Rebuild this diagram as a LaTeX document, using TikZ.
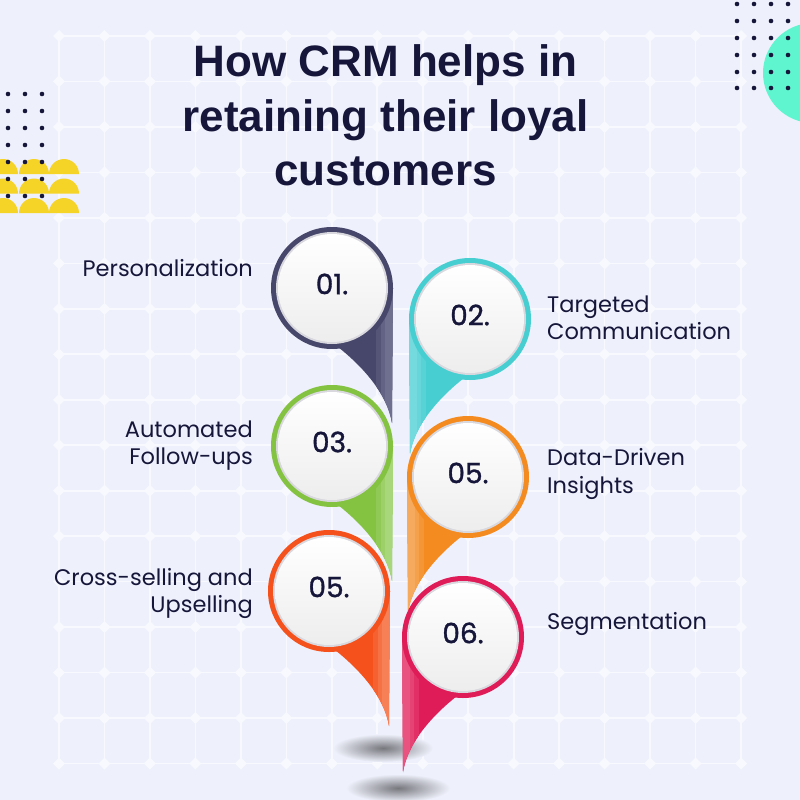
\documentclass[tikz,border=0pt]{standalone}
\usepackage{fontspec}
\setmainfont{Poppins}
\newfontfamily\titlefont{Liberation Sans}
\newfontfamily\numfont{Poppins}[FakeBold=1.2]
\usetikzlibrary{calc}
\definecolor{bg}{HTML}{EEF0FB}
\definecolor{gridc}{HTML}{F8F9FE}
\definecolor{navy}{HTML}{16163A}
\definecolor{yel}{HTML}{F6D327}
\definecolor{mint}{HTML}{5EF5CF}
\definecolor{ringgray}{HTML}{D8D8DE}
\definecolor{pAm}{HTML}{47476B}\definecolor{pAl}{HTML}{6F6F90}
\definecolor{pBm}{HTML}{47CED1}\definecolor{pBl}{HTML}{74DADD}
\definecolor{pCm}{HTML}{84C242}\definecolor{pCl}{HTML}{A8D67A}
\definecolor{pDm}{HTML}{F38B20}\definecolor{pDl}{HTML}{F6AA5E}
\definecolor{pEm}{HTML}{F4511C}\definecolor{pEl}{HTML}{F78056}
\definecolor{pFm}{HTML}{DF1C58}\definecolor{pFl}{HTML}{E8537F}
\tikzset{
  gridline/.style={draw=gridc, line width=1.6pt},
  dotc/.style={fill=navy},
  numstyle/.style={font=\numfont\fontsize{28}{30}\selectfont, text=navy, inner sep=0pt},
  lbl/.style={font=\fontsize{22.5}{26}\selectfont, text=navy, inner sep=0pt},
  lblL/.style={lbl, anchor=base east},
  lblR/.style={lbl, anchor=base west},
  ttl/.style={font=\titlefont\bfseries\fontsize{44}{50}\selectfont, text=navy, inner sep=0pt, anchor=base},
}
\newcommand\drawpin[7]{%
  \begin{scope}[shift={(#1,#2)}]
    \begin{scope}[xscale=#7]
      \fill[#3] (6,59) .. controls (30,78) and (55,105) .. (60,135) -- (61,0) -- (0,0) -- cycle;
      \begin{scope}
        \clip (6,59) .. controls (30,78) and (55,105) .. (60,135) -- (61,0) -- (0,0) -- cycle;
        \fill[#3!65!#4] (44,0) rectangle (49,140);
        \fill[#3!30!#4] (49,0) rectangle (53,140);
        \fill[#4] (53,0) rectangle (64,140);
      \end{scope}
    \end{scope}
    \fill[#3] (0,0) circle (61);
    \fill[ringgray] (0,0) circle (56);
    \shade[top color=white, bottom color=black!7] (0,0) circle (54);
    \node[numstyle] (#6) at (0,-4) {#5};
  \end{scope}}
\begin{document}
\begin{tikzpicture}[x=1pt,y=-1pt]
\useasboundingbox (0,0) rectangle (800,800);
\fill[bg] (0,0) rectangle (800,800);
% grid
\foreach \i in {0,...,15} \draw[gridline] ({59+45.47*\i},36) -- ({59+45.47*\i},763.5);
\foreach \j in {0,...,16} \draw[gridline] (59,{36+45.47*\j}) -- (741,{36+45.47*\j});
\foreach \i in {0,...,15} \foreach \j in {0,...,16}
  \fill[gridc] ({59+45.47*\i-6},{36+45.47*\j}) -- ({59+45.47*\i},{36+45.47*\j-6}) -- ({59+45.47*\i+6},{36+45.47*\j}) -- ({59+45.47*\i},{36+45.47*\j+6}) -- cycle;
% decorations top-left
\foreach \by in {174,193.5,213} \foreach \cx in {3,34,64}
  \fill[yel] ({\cx-15},\by) arc[start angle=180, end angle=360, radius=15] -- cycle;
\foreach \x in {8,25,42} \foreach \y in {94,111,128,145,162,179,196}
  \fill[dotc] (\x,\y) circle (2.3);
% decorations top-right
\fill[mint] (813,73) circle (50);
\foreach \x in {737,754,771,788} \foreach \y in {4,21,38,55,72,88}
  \fill[dotc] (\x,\y) circle (2.3);
% title
\node[ttl] (t1) at (385.5,77) {How CRM helps in};
\node[ttl] (t2) at (385.5,131) {retaining their loyal};
\node[ttl] (t3) at (385.5,185) {customers};
% shadows
\shade[inner color=black!50!bg, outer color=bg] (383,748) ellipse [x radius=50, y radius=14];
\shade[inner color=black!50!bg, outer color=bg] (398,788) ellipse [x radius=52, y radius=14];
% pins
\drawpin{332}{288}{pAm}{pAl}{01.}{n1}{1}
\drawpin{470}{319}{pBm}{pBl}{02.}{n2}{-1}
\drawpin{332}{446}{pCm}{pCl}{03.}{n3}{1}
\drawpin{468}{477}{pDm}{pDl}{05.}{n4}{-1}
\drawpin{329}{591}{pEm}{pEl}{05.}{n5}{1}
\drawpin{463}{637}{pFm}{pFl}{06.}{n6}{-1}
% labels
\node[lblL] (l1) at (253,276) {Personalization};
\node[lblR] (l2a) at (547,312) {Targeted};
\node[lblR] (l2b) at (547,339) {Communication};
\node[lblL] (l3a) at (253,437) {Automated};
\node[lblL] (l3b) at (253,464) {Follow-ups};
\node[lblR] (l4a) at (547,465) {Data-Driven};
\node[lblR] (l4b) at (547,493) {Insights};
\node[lblL] (l5a) at (253,585) {Cross-selling and};
\node[lblL] (l5b) at (253,612) {Upselling};
\node[lblR] (l6) at (547,629) {Segmentation};
\end{tikzpicture}
\end{document}
